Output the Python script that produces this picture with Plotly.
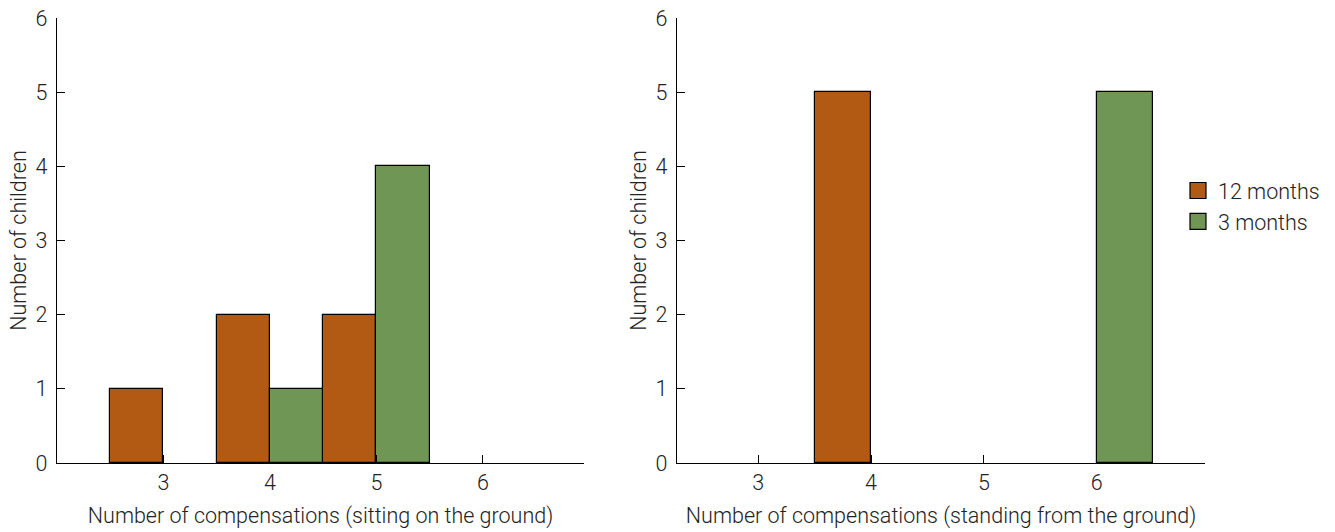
import plotly.graph_objects as go

categories = [3, 4, 5, 6]
sitting_12m = [1, 2, 2, 0]
sitting_3m = [0, 1, 4, 0]
standing_12m = [0, 5, 0, 0]
standing_3m = [0, 0, 0, 5]
series_names = ["12 months", "3 months"]
colors = ["#B25A14", "#6F9655"]
x_titles = ["Number of compensations (sitting on the ground)",
            "Number of compensations (standing from the ground)"]
y_title = "Number of children"
y_ticks = [0, 1, 2, 3, 4, 5, 6]

W, H = 1335, 532
FONT = dict(family="Roboto, 'DejaVu Sans', sans-serif", size=21.5, color="#222222", weight=300)

fig = go.Figure()
panels = [(sitting_12m, sitting_3m), (standing_12m, standing_3m)]
for i, (a, b) in enumerate(panels):
    xa = "x" if i == 0 else "x2"
    ya = "y" if i == 0 else "y2"
    for vals, name, col in zip((a, b), series_names, colors):
        fig.add_trace(go.Bar(
            x=categories, y=vals, name=name,
            marker=dict(color=col, line=dict(color="black", width=[1.2 if v > 0 else 0 for v in vals])),
            xaxis=xa, yaxis=ya, showlegend=False,
        ))

# legend entries
for name, col in zip(series_names, colors):
    fig.add_trace(go.Scatter(
        x=[None], y=[None], mode="markers", name=name,
        marker=dict(symbol="square", size=18, color=col, line=dict(color="black", width=1.2)),
        xaxis="x2", yaxis="y2", showlegend=True,
    ))

def pxx(x0, x1):
    return [x0 / W, x1 / W]

ydom = [(H - 463) / H, (H - 18) / H]

axis_common = dict(showline=True, linecolor="black", linewidth=1.3, ticks="inside", ticklen=8,
                   tickcolor="black", tickwidth=1.2, showgrid=False, zeroline=False,
                   tickfont=FONT, automargin=False)

fig.update_layout(
    width=W, height=H, margin=dict(l=0, r=0, t=0, b=0),
    paper_bgcolor="white", plot_bgcolor="white",
    barmode="group", bargap=0, bargroupgap=0,
    font=FONT,
    xaxis=dict(domain=pxx(57, 584), range=[2.0, 6.95], tickvals=categories, anchor="y",
               title=dict(text=x_titles[0], font=FONT, standoff=13), **axis_common),
    yaxis=dict(domain=ydom, range=[0, 6], tickvals=y_ticks, anchor="x", ticklabelstandoff=4,
               title=dict(text=y_title, font=FONT, standoff=3), **axis_common),
    xaxis2=dict(domain=pxx(677, 1205), range=[2.28, 6.96], tickvals=categories, anchor="y2",
                title=dict(text=x_titles[1], font=FONT, standoff=13), **axis_common),
    yaxis2=dict(domain=ydom, range=[0, 6], tickvals=y_ticks, anchor="x2", ticklabelstandoff=4,
                title=dict(text=y_title, font=FONT, standoff=3), **axis_common),
    legend=dict(x=1178 / W, y=1 - 170 / H, xanchor="left", yanchor="top",
                font=FONT, bgcolor="rgba(0,0,0,0)", itemwidth=30, tracegroupgap=2),
)

fig.write_html("out.html", config={"displayModeBar": False},
               post_script="document.body.style.margin='0px';")
